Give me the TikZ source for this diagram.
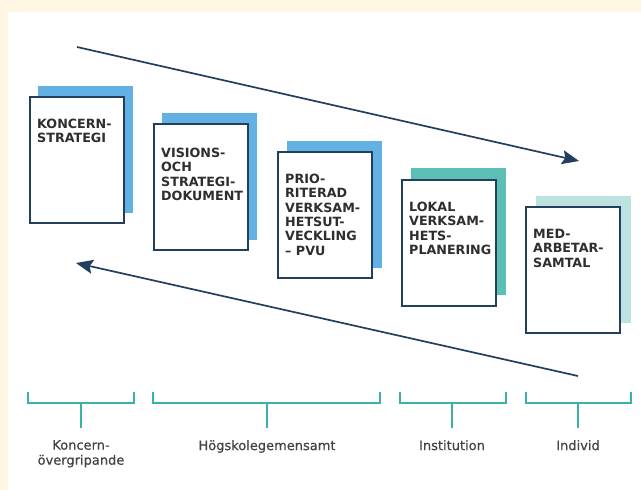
\documentclass[tikz,border=0pt]{standalone}
\usepackage{fontspec}
\setmainfont{DejaVu Sans}
\newfontfamily\mediumsans[FakeBold=0.5]{DejaVu Sans}
\usetikzlibrary{arrows.meta,positioning}

\definecolor{cream}{HTML}{FFF6E4}
\definecolor{navy}{HTML}{22405C}
\definecolor{skyblue}{HTML}{62B0E4}
\definecolor{midteal}{HTML}{5CBFB6}
\definecolor{paleteal}{HTML}{BCE3E0}
\definecolor{lineteal}{HTML}{3CB1A7}
\definecolor{inkgray}{HTML}{2E2E2E}
\definecolor{softgray}{HTML}{444444}

\begin{document}
\begin{tikzpicture}[x=1pt,y=-1pt,
    sheet/.style={draw=navy,line width=1.6pt,fill=white,minimum width=94pt,minimum height=126pt,inner sep=0pt,anchor=north west},
    backsheet/.style={fill=#1,minimum width=95pt,minimum height=127pt,inner sep=0pt,anchor=north west},
    title/.style={anchor=north west,inner sep=0pt,align=left,text=inkgray,font=\bfseries\fontsize{12.7}{14.3}\selectfont},
    flow/.style={draw=navy,line width=1.7pt,-{Stealth[length=17pt,width=14pt,inset=3pt]}},
    bracket/.style={draw=lineteal,line width=1.4pt},
    level/.style={anchor=north,inner sep=0pt,align=center,text=softgray,font=\mediumsans\fontsize{13}{15}\selectfont}]

    % Background and white panel
    \useasboundingbox (0,0) rectangle (641,490);
    \fill[cream] (0,0) rectangle (641,490);
    \fill[white] (8,12) rectangle (641,490);

    % Sheets behind (coloured)
    \node[backsheet=skyblue] (back1) at (38,86) {};
    \node[backsheet=skyblue] (back2) at (162,113) {};
    \node[backsheet=skyblue] (back3) at (287,141) {};
    \node[backsheet=midteal] (back4) at (411,168) {};
    \node[backsheet=paleteal] (back5) at (536,196) {};

    % Front sheets
    \node[sheet] (doc1) at (29,96) {};
    \node[sheet] (doc2) at (153,123) {};
    \node[sheet] (doc3) at (277,151) {};
    \node[sheet] (doc4) at (401,179) {};
    \node[sheet] (doc5) at (525,206) {};

    % Titles on the sheets
    \node[title] (title1) at ([shift={(8,23)}]doc1.north west) {KONCERN-\\STRATEGI};
    \node[title] (title2) at ([shift={(8,25)}]doc2.north west) {VISIONS-\\OCH\\STRATEGI-\\DOKUMENT};
    \node[title] (title3) at ([shift={(8,23)}]doc3.north west) {PRIO-\\RITERAD\\VERKSAM-\\HETSUT-\\VECKLING\\– PVU};
    \node[title] (title4) at ([shift={(8,23)}]doc4.north west) {LOKAL\\VERKSAM-\\HETS-\\PLANERING};
    \node[title] (title5) at ([shift={(8,23)}]doc5.north west) {MED-\\ARBETAR-\\SAMTAL};

    % Flow arrows
    \coordinate (downstart) at (77,47);
    \coordinate (downend) at (579,161);
    \coordinate (upstart) at (578,376);
    \coordinate (upend) at (76,263);
    \draw[flow] (downstart) -- (downend);
    \draw[flow] (upstart) -- (upend);

    % Brackets with their levels
    \draw[bracket] (28,392) -- (28,403) -- (134,403) -- (134,392);
    \draw[bracket] (81,403) -- (81,428);
    \node[level] (lvl1) at (81,440) {Koncern-\\övergripande};

    \draw[bracket] (153,392) -- (153,403) -- (380,403) -- (380,392);
    \draw[bracket] (267,403) -- (267,428);
    \node[level] (lvl2) at (267,440) {Högskolegemensamt};

    \draw[bracket] (400,392) -- (400,403) -- (506,403) -- (506,392);
    \draw[bracket] (452,403) -- (452,428);
    \node[level] (lvl3) at (452,440) {Institution};

    \draw[bracket] (526,392) -- (526,403) -- (631,403) -- (631,392);
    \draw[bracket] (578,403) -- (578,428);
    \node[level] (lvl4) at (578,440) {Individ};

\end{tikzpicture}
\end{document}
